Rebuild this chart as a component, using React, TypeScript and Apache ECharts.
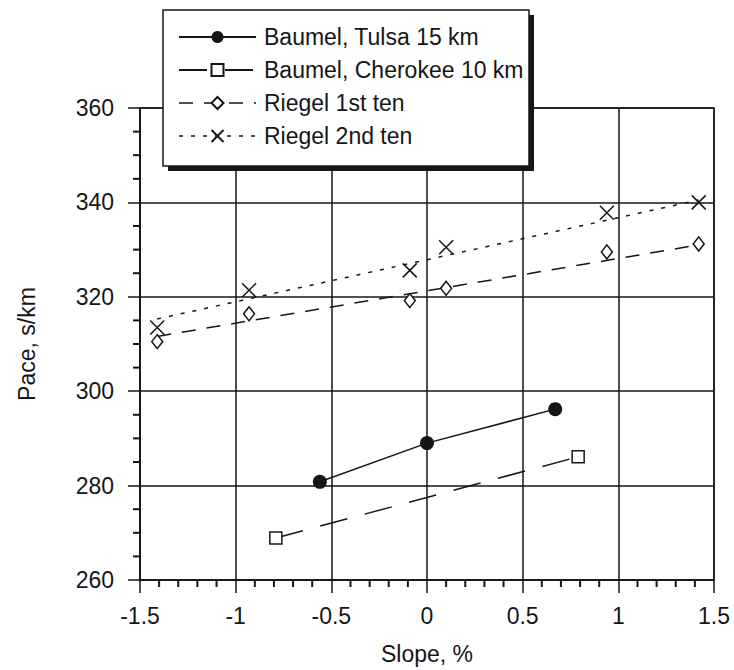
import React, { useEffect, useRef } from "react";
import * as echarts from "echarts";

// ---- data ----
const tulsaSlope = [-0.56, 0, 0.67];
const tulsaPace = [280.8, 289, 296.2];

const cherokeeSlope = [-0.79, 0.79];
const cherokeePace = [268.9, 286.1];

const riegel1Slope = [-1.41, -0.93, -0.09, 0.1, 0.94, 1.42];
const riegel1Pace = [310.5, 316.4, 319.2, 321.8, 329.5, 331.2];
const riegel1FitSlope = [-1.41, 1.42];
const riegel1FitPace = [311.6, 331.0];

const riegel2Slope = [-1.41, -0.93, -0.09, 0.1, 0.94, 1.42];
const riegel2Pace = [313.5, 321.4, 325.6, 330.5, 337.8, 340.0];
const riegel2FitSlope = [-1.41, 1.42];
const riegel2FitPace = [315.3, 340.5];

const xTicks = [-1.5, -1, -0.5, 0, 0.5, 1, 1.5];
const yTicks = [260, 280, 300, 320, 340, 360];
const xMinorStep = 0.1;
const yMinorStep = 5;

const seriesNames = [
  "Baumel, Tulsa 15 km",
  "Baumel, Cherokee 10 km",
  "Riegel 1st ten",
  "Riegel 2nd ten",
];

const zip = (a: number[], b: number[]) => a.map((v, i) => [v, b[i]]);

const minorPositions = (lo: number, hi: number, step: number, major: number[]) => {
  const out: number[] = [];
  const n = Math.round((hi - lo) / step);
  for (let i = 0; i <= n; i++) {
    const v = Math.round((lo + i * step) * 1000) / 1000;
    if (!major.some((m) => Math.abs(m - v) < 1e-6)) out.push(v);
  }
  return out;
};

const INK = "#161616";
const FONT = "'Liberation Sans', Arial, sans-serif";

export default function App() {
  const ref = useRef<HTMLDivElement>(null);

  useEffect(() => {
    if (!ref.current) return;
    const chart = echarts.init(ref.current, undefined, { renderer: "svg" });

    const dash1: number[] = [28, 18];
    const dash2: number[] = [14, 11];
    const dot: number[] = [4, 8];

    const xMin = xTicks[0];
    const xMax = xTicks[xTicks.length - 1];
    const yMin = yTicks[0];
    const yMax = yTicks[yTicks.length - 1];

    const xMinor = minorPositions(xMin, xMax, xMinorStep, xTicks);
    const yMinor = minorPositions(yMin, yMax, yMinorStep, yTicks);

    chart.setOption({
      animation: false,
      backgroundColor: "#ffffff",
      textStyle: { fontFamily: FONT, color: INK },
      grid: {
        left: 140,
        right: 20,
        top: 108,
        bottom: 90,
        show: true,
        borderColor: INK,
        borderWidth: 1.5,
        backgroundColor: "transparent",
      },
      xAxis: {
        type: "value",
        min: xMin,
        max: xMax,
        interval: 0.5,
        name: "Slope, %",
        nameLocation: "middle",
        nameGap: 62,
        nameTextStyle: { fontSize: 23, color: INK, fontFamily: FONT },
        axisLine: { show: true, onZero: false, lineStyle: { color: INK, width: 1.5 } },
        axisTick: { show: true, length: 13, lineStyle: { color: INK, width: 1.5 } },
        splitLine: { show: true, lineStyle: { color: INK, width: 1.5 } },
        axisLabel: {
          fontSize: 23,
          color: INK,
          margin: 24,
          fontFamily: FONT,
          formatter: (v: number) => String(v),
        },
      },
      yAxis: {
        type: "value",
        min: yMin,
        max: yMax,
        interval: 20,
        name: "Pace, s/km",
        nameLocation: "middle",
        nameGap: 102,
        nameTextStyle: { fontSize: 23, color: INK, fontFamily: FONT },
        axisLine: { show: true, onZero: false, lineStyle: { color: INK, width: 1.5 } },
        axisTick: { show: true, length: 12, lineStyle: { color: INK, width: 1.5 } },
        splitLine: { show: true, lineStyle: { color: INK, width: 1.5 } },
        axisLabel: { fontSize: 23, color: INK, margin: 26, fontFamily: FONT },
      },
      legend: {
        orient: "vertical",
        left: 173,
        top: 20,
        itemWidth: 77,
        itemHeight: 15,
        itemGap: 9,
        z: 20,
        data: [
          { name: seriesNames[0] },
          { name: seriesNames[1] },
          {
            name: seriesNames[2],
            lineStyle: { opacity: 1, width: 1.5, type: dash2, color: INK },
          },
          {
            name: seriesNames[3],
            lineStyle: { opacity: 1, width: 1.5, type: dot, color: INK },
          },
        ],
        textStyle: {
          fontSize: 23,
          lineHeight: 24,
          color: INK,
          fontFamily: FONT,
          padding: [0, 0, 0, 3],
        },
        selectedMode: false,
      },
      graphic: [
        {
          type: "rect",
          z: 10,
          shape: { x: 168, y: 15, width: 366, height: 156 },
          style: { fill: INK },
        },
        {
          type: "rect",
          z: 11,
          shape: { x: 163, y: 10, width: 366, height: 156 },
          style: { fill: "#ffffff", stroke: INK, lineWidth: 1.5 },
        },
      ],
      series: [
        {
          name: "xMinorTicks",
          type: "custom",
          coordinateSystem: "cartesian2d",
          clip: false,
          silent: true,
          data: xMinor.map((v) => [v, yMin]),
          encode: { x: 0, y: 1 },
          renderItem: (_p: any, api: any) => {
            const pt = api.coord([api.value(0), api.value(1)]);
            return {
              type: "line",
              shape: { x1: pt[0], y1: pt[1], x2: pt[0], y2: pt[1] + 7 },
              style: { stroke: INK, lineWidth: 2 },
            };
          },
          z: 30,
        },
        {
          name: "yMinorTicks",
          type: "custom",
          coordinateSystem: "cartesian2d",
          clip: false,
          silent: true,
          data: yMinor.map((v) => [xMin, v]),
          encode: { x: 0, y: 1 },
          renderItem: (_p: any, api: any) => {
            const pt = api.coord([api.value(0), api.value(1)]);
            return {
              type: "line",
              shape: { x1: pt[0] - 7, y1: pt[1], x2: pt[0], y2: pt[1] },
              style: { stroke: INK, lineWidth: 2 },
            };
          },
          z: 30,
        },
        {
          name: seriesNames[0],
          type: "line",
          data: zip(tulsaSlope, tulsaPace),
          symbol: "circle",
          symbolSize: 14,
          showAllSymbol: true,
          lineStyle: { color: INK, width: 1.5 },
          itemStyle: { color: INK },
          z: 5,
        },
        {
          name: seriesNames[1],
          type: "line",
          data: zip(cherokeeSlope, cherokeePace),
          symbol: "rect",
          symbolSize: 12,
          lineStyle: { color: INK, width: 1.5, type: dash1 },
          itemStyle: { color: "#ffffff", borderColor: INK, borderWidth: 1.5 },
          z: 5,
        },
        {
          name: "riegel1fit",
          type: "line",
          data: zip(riegel1FitSlope, riegel1FitPace),
          symbol: "none",
          lineStyle: { color: INK, width: 1.5, type: dash2 },
          z: 3,
        },
        {
          name: "riegel2fit",
          type: "line",
          data: zip(riegel2FitSlope, riegel2FitPace),
          symbol: "none",
          lineStyle: { color: INK, width: 1.5, type: dot },
          z: 3,
        },
        {
          name: seriesNames[2],
          type: "line",
          data: zip(riegel1Slope, riegel1Pace),
          symbol: "diamond",
          symbolSize: [11, 14],
          lineStyle: { opacity: 0, width: 0 },
          itemStyle: { color: "#ffffff", borderColor: INK, borderWidth: 1.5 },
          z: 6,
        },
        {
          name: seriesNames[3],
          type: "line",
          data: zip(riegel2Slope, riegel2Pace),
          symbol: "path://M0,0L10,10M10,0L0,10",
          symbolSize: 14,
          lineStyle: { opacity: 0, width: 0 },
          itemStyle: { color: "none", borderColor: INK, borderWidth: 1.5 },
          z: 6,
        },
      ],
    });

    return () => chart.dispose();
  }, []);

  return (
    <div
      ref={ref}
      style={{ position: "fixed", left: 0, top: 0, width: 734, height: 670, background: "#fff" }}
    />
  );
}
